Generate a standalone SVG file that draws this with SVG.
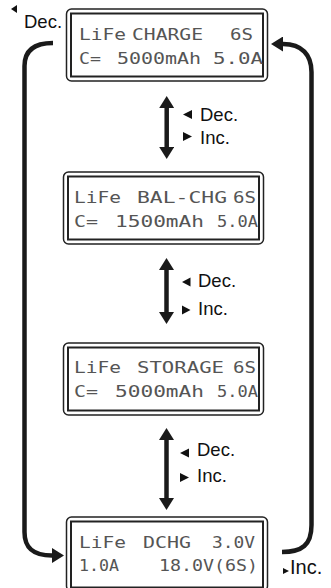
<svg xmlns="http://www.w3.org/2000/svg" width="331" height="588" viewBox="0 0 331 588">
<style>
.outer{fill:none;stroke:#222;stroke-width:1.5}
.inner{fill:#fff;stroke:#222;stroke-width:2}
.lcd{font-family:"DejaVu Sans Mono","Liberation Mono",monospace;font-size:16.5px;fill:#555}
.lbl{font-family:"Liberation Sans",Arial,sans-serif;font-size:18.5px;fill:#111}
.shaft{fill:none;stroke:#1a1a1a;stroke-width:4.5}
.tri{fill:#111}
</style>
<defs>
<marker id="ah" markerUnits="userSpaceOnUse" markerWidth="12" markerHeight="15" refX="0" refY="7.5" orient="auto-start-reverse" viewBox="0 0 12 15">
<path d="M0,0 L12,7.5 L0,15 z" fill="#1a1a1a"/>
</marker>
</defs>
<rect width="331" height="588" fill="#fff"/>

<g id="connectors">
<line class="shaft" x1="166.7" y1="108" x2="166.7" y2="147" marker-start="url(#ah)" marker-end="url(#ah)"/>
<line class="shaft" x1="166.5" y1="270" x2="166.5" y2="312" marker-start="url(#ah)" marker-end="url(#ah)"/>
<line class="shaft" x1="166.5" y1="440" x2="166.5" y2="498" marker-start="url(#ah)" marker-end="url(#ah)"/>
<path class="shaft" d="M53,43 C35,43 24.5,50 24.5,66 L24.5,532 C24.5,548 33,555.5 52,555.5" marker-end="url(#ah)"/>
<path class="shaft" d="M282,552 C302,552 311.5,545 311.5,525 L311.5,72 C311.5,55 302,44 283,44" marker-end="url(#ah)"/>
</g>

<g id="labels">
<polygon class="tri" points="11,9 17,5 17,13"/>
<text class="lbl" x="24" y="28">Dec.</text>
<polygon class="tri" points="283,568 289,571 283,574"/>
<text class="lbl" x="290" y="574" style="font-size:20px">Inc.</text>
<polygon class="tri" points="183,114.5 192,110 192,119"/>
<text class="lbl" x="200" y="121">Dec.</text>
<polygon class="tri" points="183,132 192,136.5 183,141"/>
<text class="lbl" x="200" y="144">Inc.</text>
<polygon class="tri" points="182,282 190.5,277.5 190.5,286.5"/>
<text class="lbl" x="198" y="287">Dec.</text>
<polygon class="tri" points="182,305.5 190.5,310 182,314.5"/>
<text class="lbl" x="198" y="315">Inc.</text>
<polygon class="tri" points="180,453 189,448.5 189,457.5"/>
<text class="lbl" x="197" y="456">Dec.</text>
<polygon class="tri" points="180,473 189,477.5 180,482"/>
<text class="lbl" x="197" y="482">Inc.</text>
</g>

<g id="box-charge">
<rect class="outer" x="66.5" y="9" width="201" height="72" rx="5"/>
<rect class="inner" x="71" y="13.5" width="192" height="63"/>
<text class="lcd" x="79" y="40" textLength="47" lengthAdjust="spacingAndGlyphs">LiFe</text>
<text class="lcd" x="132" y="40" textLength="71" lengthAdjust="spacingAndGlyphs">CHARGE</text>
<text class="lcd" x="230" y="40" textLength="23" lengthAdjust="spacingAndGlyphs">6S</text>
<text class="lcd" x="79" y="64" textLength="22" lengthAdjust="spacingAndGlyphs">C=</text>
<text class="lcd" x="117" y="64" textLength="84" lengthAdjust="spacingAndGlyphs">5000mAh</text>
<text class="lcd" x="213" y="64" textLength="50" lengthAdjust="spacingAndGlyphs">5.0A</text>
</g>

<g id="box-balchg">
<rect class="outer" x="63.5" y="172" width="200" height="72" rx="5"/>
<rect class="inner" x="68" y="176.5" width="191" height="63"/>
<text class="lcd" x="74" y="203" textLength="47" lengthAdjust="spacingAndGlyphs">LiFe</text>
<text class="lcd" x="137" y="203" textLength="90" lengthAdjust="spacingAndGlyphs">BAL-CHG</text>
<text class="lcd" x="233" y="203" textLength="23" lengthAdjust="spacingAndGlyphs">6S</text>
<text class="lcd" x="74" y="227" textLength="24" lengthAdjust="spacingAndGlyphs">C=</text>
<text class="lcd" x="115" y="227" textLength="89" lengthAdjust="spacingAndGlyphs">1500mAh</text>
<text class="lcd" x="217" y="227" textLength="41" lengthAdjust="spacingAndGlyphs">5.0A</text>
</g>

<g id="box-storage">
<rect class="outer" x="63.5" y="343" width="200" height="72" rx="5"/>
<rect class="inner" x="68" y="347.5" width="191" height="63"/>
<text class="lcd" x="74" y="373" textLength="47" lengthAdjust="spacingAndGlyphs">LiFe</text>
<text class="lcd" x="137" y="373" textLength="87" lengthAdjust="spacingAndGlyphs">STORAGE</text>
<text class="lcd" x="233" y="373" textLength="23" lengthAdjust="spacingAndGlyphs">6S</text>
<text class="lcd" x="74" y="397" textLength="24" lengthAdjust="spacingAndGlyphs">C=</text>
<text class="lcd" x="115" y="397" textLength="89" lengthAdjust="spacingAndGlyphs">5000mAh</text>
<text class="lcd" x="217" y="397" textLength="41" lengthAdjust="spacingAndGlyphs">5.0A</text>
</g>

<g id="box-dchg">
<rect class="outer" x="66.5" y="517" width="201" height="74" rx="5"/>
<rect class="inner" x="71" y="521.5" width="192" height="66"/>
<text class="lcd" x="79" y="548" textLength="47" lengthAdjust="spacingAndGlyphs">LiFe</text>
<text class="lcd" x="143" y="548" textLength="48" lengthAdjust="spacingAndGlyphs">DCHG</text>
<text class="lcd" x="212" y="548" textLength="43" lengthAdjust="spacingAndGlyphs">3.0V</text>
<text class="lcd" x="79" y="571" textLength="40" lengthAdjust="spacingAndGlyphs">1.0A</text>
<text class="lcd" x="159" y="571" textLength="99" lengthAdjust="spacingAndGlyphs">18.0V(6S)</text>
</g>
</svg>
